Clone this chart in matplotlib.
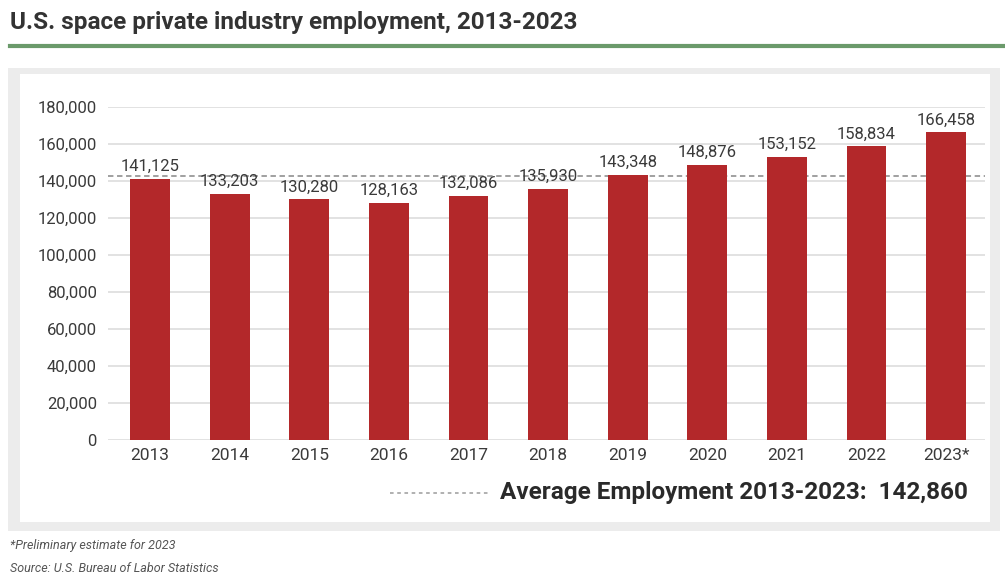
import matplotlib.pyplot as plt
from matplotlib.patches import Rectangle
from matplotlib.lines import Line2D

years = ["2013", "2014", "2015", "2016", "2017", "2018", "2019", "2020", "2021", "2022", "2023*"]
employment = [141125, 133203, 130280, 128163, 132086, 135930, 143348, 148876, 153152, 158834, 166458]
average = 142860
yticks = [0, 20000, 40000, 60000, 80000, 100000, 120000, 140000, 160000, 180000]

FONT = ["Liberation Sans Narrow", "Roboto", "DejaVu Sans"]
plt.rcParams["font.family"] = FONT

W, H = 1005, 578
fig = plt.figure(figsize=(W / 100, H / 100), dpi=100)

def fx(px):
    return px / W

def fy(py):
    return 1 - py / H

# panel background (gray frame, white inside)
fig.patches.append(Rectangle((fx(8), fy(531)), fx(992), 463 / H, transform=fig.transFigure,
                             facecolor="#ececec", edgecolor="none", zorder=-2))
fig.patches.append(Rectangle((fx(20), fy(522)), fx(970), 448 / H, transform=fig.transFigure,
                             facecolor="white", edgecolor="none", zorder=-1))

# title and green rule
fig.text(fx(10), fy(23), "U.S. space private industry employment, 2013-2023", fontsize=17.5,
         fontweight="bold", color="#333333", va="center", ha="left")
fig.add_artist(Line2D([fx(10), 1.0], [fy(46), fy(46)], transform=fig.transFigure,
                      color="#6b9a6b", linewidth=3))

ax = fig.add_axes([fx(108), fy(440), fx(877), (440 - 107) / H])
ax.set_facecolor("none")
x = list(range(len(years)))
ax.bar(x, employment, width=0.5, color="#b3282a", zorder=3)
ax.axhline(average, color="#999999", linestyle=(0, (3, 2)), linewidth=1.3, zorder=2)
for xi, v in zip(x, employment):
    ax.text(xi, v + 2500, f"{v:,}", ha="center", va="bottom", fontsize=12, color="#3a3a3a", zorder=4)

ax.set_xlim(-0.53, 10.49)
ax.set_ylim(0, 180000)
ax.set_yticks(yticks)
ax.set_yticklabels([f"{t:,}" for t in yticks], fontsize=12, color="#3a3a3a")
ax.set_xticks(x)
ax.set_xticklabels(years, fontsize=12.5, color="#3a3a3a")
ax.tick_params(length=0, pad=8)
ax.tick_params(axis="x", pad=6)
ax.grid(axis="y", color="#dddddd", linewidth=1.2, zorder=0)
ax.set_axisbelow(True)
for s in ax.spines.values():
    s.set_visible(False)

# legend for the average line
fig.add_artist(Line2D([fx(390), fx(488)], [fy(493), fy(493)], transform=fig.transFigure,
                      color="#aaaaaa", linestyle=(0, (2, 2)), linewidth=1.3))
fig.text(fx(968), fy(493), "Average Employment 2013-2023:  142,860", fontsize=17.5,
         color="#2a2a2a", ha="right", va="center", fontweight="bold")

# footnotes
fig.text(fx(10), fy(546), "*Preliminary estimate for 2023", fontsize=9, style="italic",
         color="#555555", va="center")
fig.text(fx(10), fy(568), "Source: U.S. Bureau of Labor Statistics", fontsize=9, style="italic",
         color="#555555", va="center")

fig.savefig("out.png", dpi=100)
